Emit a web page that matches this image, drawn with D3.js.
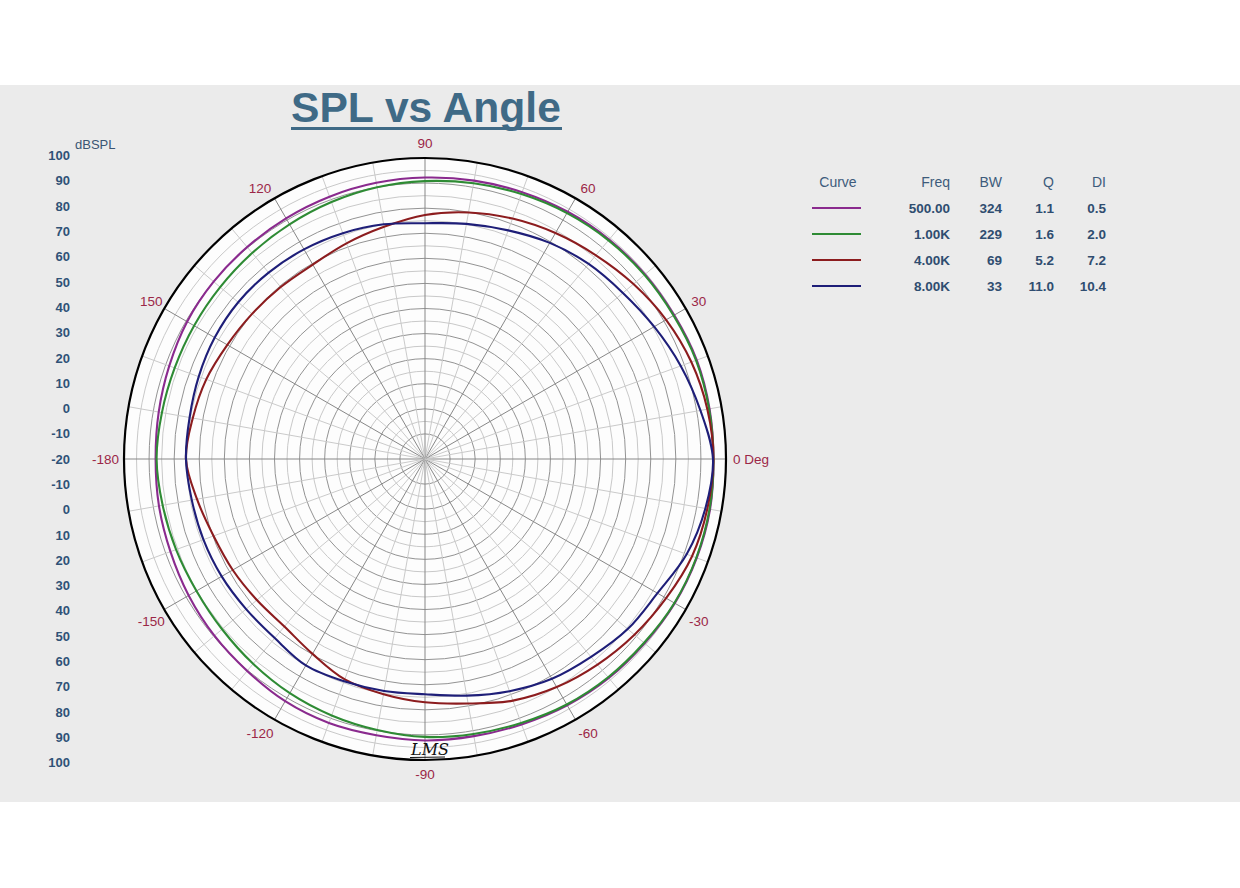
<!DOCTYPE html>
<html>
<head>
<meta charset="utf-8">
<script src="https://cdn.jsdelivr.net/npm/d3@7"></script>
<style>
  body{ margin:0; background:#ffffff; }
  text{ font-family:"Liberation Sans", Arial, sans-serif; }
</style>
</head>
<body>
<svg id="chart" width="1240" height="888"></svg>
<script>
// angles in degrees, counter-clockwise from 0 Deg (right)
var angles = [0,10,20,30,40,50,60,70,80,90,100,110,120,130,140,150,160,170,
  180,-170,-160,-150,-140,-130,-120,-110,-100,-90,-80,-70,-60,-50,-40,-30,-20,-10];

// dBSPL
var spl500 = [95,95.2,95.3,94.7,94.5,94.2,93.8,93.2,92.7,92.2,91.8,91.3,90.8,90.3,90,89.5,88.5,87.8,
  87.4,87.7,88,88.8,89.6,90.3,91.5,92,91.8,92.2,92.2,92.6,93.4,94,94.3,95,95.3,95.4];
var spl1k = [95,95,95,94.4,94.2,93.8,93.2,92.4,91.6,90.8,90,89,88,87.2,86.6,86.3,86.2,86.5,
  87,86.2,85.6,85.2,85.6,86.6,87.8,88.8,89.7,90.8,91.3,92,93,93.6,94,94.8,95.1,95.2];
var spl4k = [95,94.3,93,91,88.5,86,84,82,79.8,77.3,74,71.5,69.5,69.5,70,71,72.8,74,
  75.3,72.3,69.7,68.5,67.5,67.2,69.7,73.5,75.2,77,79,82.5,85,87,89,91,93.3,94.3];
var spl8k = [94.8,91.5,88.5,85.5,83,81.5,79.5,77,75.2,74,75,75.8,76.5,77,77.2,76.8,76,75.3,
  75.3,74.4,74,73.6,73.1,73.2,75,74.3,73.9,73.8,75.8,78.5,81.2,83,85.5,87,91,93.5];

var curveNames = ['500.00','1.00K','4.00K','8.00K'];
var curveColors = ['#8a2a8e','#2e8b34','#8c1c1e','#1e1e78'];
var bwValues = ['324','229','69','33'];
var qValues = ['1.1','1.6','5.2','11.0'];
var diValues = ['0.5','2.0','7.2','10.4'];
var series = [spl500, spl1k, spl4k, spl8k];

var angleTicks = [0,30,60,90,120,150,180,-150,-120,-90,-60,-30];
var scaleTicksUp = [100,90,80,70,60,50,40,30,20,10,0,-10,-20];
var scaleTicksDown = [-10,0,10,20,30,40,50,60,70,80,90,100];

var cx = 425, cy = 459, R = 301;
var svg = d3.select('#chart');

// grey panel
svg.append('rect')
  .attr('x',0).attr('y',85)
  .attr('width',1240).attr('height',717)
  .style('fill','#ebebeb');

var rScale = d3.scaleLinear().domain([-20,100]).range([0,R]);
var labelScale = d3.scaleLinear().domain([-20,100]).range([0,R+2.5]);
function rad(a){ return a*Math.PI/180; }

var plot = svg.append('g').attr('transform','translate(' + cx + ',' + cy + ')');

plot.append('circle')
  .attr('r',R)
  .style('fill','#fdfdfd');

// rings
var rings = d3.range(-10,100,5);
plot.selectAll('.ring')
  .data(rings)
  .enter()
  .append('circle')
  .attr('class','ring')
  .attr('r',function(d){ return rScale(d); })
  .style('fill','none')
  .style('stroke',function(d){ return d % 10 == 0 ? '#939393' : '#c9c9c9'; })
  .style('stroke-width',1);

// spokes
var spokes = d3.range(0,360,10);
plot.selectAll('.spoke')
  .data(spokes)
  .enter()
  .append('line')
  .attr('class','spoke')
  .attr('x1',0).attr('y1',0)
  .attr('x2',function(d){ return R*Math.cos(rad(d)); })
  .attr('y2',function(d){ return -R*Math.sin(rad(d)); })
  .style('stroke',function(d){ return d % 30 == 0 ? '#878787' : '#cacaca'; })
  .style('stroke-width',1);

// curves
var radial = d3.lineRadial()
  .angle(function(d){ return Math.PI/2 - rad(d.a); })
  .radius(function(d){ return rScale(d.v); })
  .curve(d3.curveCatmullRomClosed.alpha(0.5));

series.forEach(function(s,i){
  var pts = angles.map(function(a,j){ return {a:a, v:s[j]}; });
  plot.append('path')
    .datum(pts)
    .attr('d',radial)
    .style('fill','none')
    .style('stroke',curveColors[i])
    .style('stroke-width',2.1);
});

// outer circle
plot.append('circle')
  .attr('r',R)
  .style('fill','none')
  .style('stroke','#000')
  .style('stroke-width',2.2);

// angle labels
function labelX(d){
  if(d == 0){ return R + 7; }
  if(d == 180){ return -R - 5; }
  var x = 316*Math.cos(rad(d));
  if(Math.abs(d) == 60 || Math.abs(d) == 120){ x += (x > 0 ? 5 : -7); }
  return x;
}
function labelY(d){
  if(d == 0 || d == 180){ return 0; }
  var y = -316*Math.sin(rad(d));
  if(d == 60 || d == 120){ y += 3; }
  if(d == -30 || d == -150){ y += 4; }
  if(d == -90){ y -= 1; }
  return y;
}
plot.selectAll('.angle-label')
  .data(angleTicks)
  .enter()
  .append('text')
  .attr('class','angle-label')
  .attr('x',labelX)
  .attr('y',labelY)
  .attr('dy','0.36em')
  .attr('text-anchor',function(d){
    if(d == 0){ return 'start'; }
    if(d == 180){ return 'end'; }
    return 'middle';
  })
  .style('font-size','13.5px')
  .style('fill','#9b2747')
  .text(function(d){
    if(d == 0){ return '0 Deg'; }
    if(d == 180){ return '-180'; }
    return d;
  });

// dBSPL scale on the left
svg.selectAll('.scale-up')
  .data(scaleTicksUp)
  .enter()
  .append('text')
  .attr('x',70)
  .attr('y',function(d){ return cy - labelScale(d); })
  .attr('dy','0.36em')
  .attr('text-anchor','end')
  .style('font-size','13px')
  .style('font-weight','bold')
  .style('fill','#2f5277')
  .text(function(d){ return d; });

svg.selectAll('.scale-down')
  .data(scaleTicksDown)
  .enter()
  .append('text')
  .attr('x',70)
  .attr('y',function(d){ return cy + labelScale(d); })
  .attr('dy','0.36em')
  .attr('text-anchor','end')
  .style('font-size','13px')
  .style('font-weight','bold')
  .style('fill','#2f5277')
  .text(function(d){ return d; });

svg.append('text')
  .attr('x',75).attr('y',149)
  .style('font-size','13px')
  .style('fill','#3a5573')
  .text('dBSPL');

// title
svg.append('text')
  .attr('x',291).attr('y',122)
  .style('font-size','42.6px')
  .style('font-weight','bold')
  .style('fill','#3f6a86')
  .text('SPL vs Angle');
svg.append('rect')
  .attr('x',291).attr('y',127)
  .attr('width',271).attr('height',3)
  .style('fill','#3f6a86');

// signature
svg.append('text')
  .attr('x',411).attr('y',755)
  .style('font-family','"DejaVu Serif", serif')
  .style('font-style','italic')
  .style('font-size','16px')
  .style('fill','#111')
  .text('LMS');
svg.append('line')
  .attr('x1',410).attr('y1',757.5)
  .attr('x2',445).attr('y2',757)
  .style('stroke','#111')
  .style('stroke-width',1.2);

// legend table
var legend = svg.append('g').attr('class','legend');
var headY = 182, rowY0 = 208, rowStep = 26;
var cols = [
  {title:'Freq', x:950, vals:curveNames},
  {title:'BW', x:1002, vals:bwValues},
  {title:'Q', x:1054, vals:qValues},
  {title:'DI', x:1106, vals:diValues}
];

legend.append('text')
  .attr('x',838).attr('y',headY)
  .attr('dy','0.36em')
  .attr('text-anchor','middle')
  .style('font-size','14px')
  .style('fill','#3d5b7b')
  .text('Curve');

cols.forEach(function(c){
  legend.append('text')
    .attr('x',c.x).attr('y',headY)
    .attr('dy','0.36em')
    .attr('text-anchor','end')
    .style('font-size','14px')
    .style('fill','#3d5b7b')
    .text(c.title);
  legend.selectAll(null)
    .data(c.vals)
    .enter()
    .append('text')
    .attr('x',c.x)
    .attr('y',function(d,i){ return rowY0 + i*rowStep; })
    .attr('dy','0.36em')
    .attr('text-anchor','end')
    .style('font-size','13.5px')
    .style('font-weight','bold')
    .style('fill','#2f4d70')
    .text(function(d){ return d; });
});

legend.selectAll('.swatch')
  .data(curveColors)
  .enter()
  .append('line')
  .attr('class','swatch')
  .attr('x1',812).attr('x2',861)
  .attr('y1',function(d,i){ return rowY0 + i*rowStep; })
  .attr('y2',function(d,i){ return rowY0 + i*rowStep; })
  .style('stroke',function(d){ return d; })
  .style('stroke-width',2.2);
</script>
</body>
</html>
